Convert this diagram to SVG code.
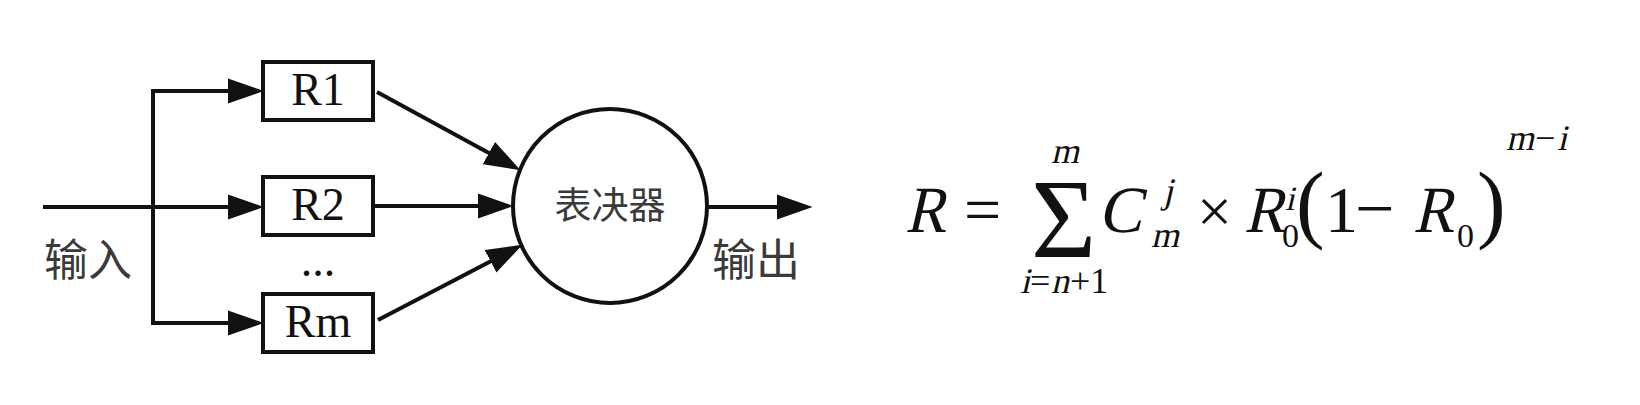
<svg xmlns="http://www.w3.org/2000/svg" width="1640" height="405" viewBox="0 0 1640 405">
<defs>
<style>
.ln{fill:none;stroke:#111;stroke-width:4}
.box{fill:#fff;stroke:#111;stroke-width:4}
.lbl{font-family:"Liberation Serif","Times New Roman",serif;font-size:46px;fill:#111;text-anchor:middle}
.cjk{font-family:"Noto Sans CJK SC","Noto Sans",sans-serif;font-size:44px;fill:#3a3a3a}
.f66{font-family:"Liberation Serif","Times New Roman",serif;font-size:66px;fill:#111}
.f36{font-family:"Liberation Serif","Times New Roman",serif;font-size:36px;fill:#111}
.f34{font-family:"Liberation Serif","Times New Roman",serif;font-size:34px;fill:#111}
.f86{font-family:"Liberation Serif","Times New Roman",serif;font-size:86px;fill:#111}
.f112{font-family:"Liberation Serif","Times New Roman",serif;font-size:112px;fill:#111}
</style>
<marker id="ah" markerUnits="userSpaceOnUse" markerWidth="36" markerHeight="26" refX="24" refY="12" orient="auto" viewBox="0 0 34 24">
<path d="M0,0 L34,12 L0,24 z" fill="#111"/>
</marker>
</defs>
<rect width="1640" height="405" fill="#fff"/>
<g id="connectors">
<path class="ln" d="M43,207 H253" marker-end="url(#ah)"/>
<path class="ln" d="M153,207 V91 H253" marker-end="url(#ah)"/>
<path class="ln" d="M153,207 V323 H253" marker-end="url(#ah)"/>
<path class="ln" d="M377,92 L511.2,165.2" marker-end="url(#ah)"/>
<path class="ln" d="M373,206 L503,206" marker-end="url(#ah)"/>
<path class="ln" d="M378,320 L513.1,249.6" marker-end="url(#ah)"/>
<path class="ln" d="M707,207 L802,207" marker-end="url(#ah)"/>
</g>
<g id="input-label"><text class="cjk" x="44" y="276">输入</text></g>
<g id="R1"><rect class="box" x="263" y="62" width="110" height="58"/><text class="lbl" x="318" y="105">R1</text></g>
<g id="R2"><rect class="box" x="263" y="177" width="110" height="58"/><text class="lbl" x="318" y="220">R2</text></g>
<g id="dots"><text class="lbl" x="318" y="276">...</text></g>
<g id="Rm"><rect class="box" x="263" y="294" width="110" height="58"/><text class="lbl" x="318" y="337">Rm</text></g>
<g id="voter"><circle class="box" cx="610" cy="206" r="97"/><text class="cjk" x="610" y="219" style="font-size:37px" text-anchor="middle">表决器</text></g>
<g id="output-label"><text class="cjk" x="712" y="276">输出</text></g>
<g id="formula">
<text class="f66" transform="translate(905,232) skewX(-13) scale(0.92,1)">R</text>
<text class="f66" x="964" y="232">=</text>
<text class="f112" x="1031" y="257">Σ</text>
<text class="f36" transform="translate(1065,163) skewX(-13)" text-anchor="middle">m</text>
<text class="f36" transform="translate(1020,293) skewX(-13)">i</text>
<text class="f36" x="1030" y="293">=</text>
<text class="f36" transform="translate(1051,293) skewX(-13)">n</text>
<text class="f36" x="1070" y="293">+1</text>
<text class="f66" transform="translate(1098,232) skewX(-13)">C</text>
<text class="f36" transform="translate(1163,203) skewX(-13)">j</text>
<text class="f36" transform="translate(1151,247) skewX(-13)">m</text>
<text class="f66" x="1197" y="232" style="font-size:62px">×</text>
<text class="f66" transform="translate(1244,232) skewX(-13) scale(0.92,1)">R</text>
<text class="f34" transform="translate(1285,210) skewX(-13)">i</text>
<text class="f34" x="1282" y="247">0</text>
<text class="f86" x="1296" y="232">(</text>
<text class="f66" x="1325" y="232">1</text>
<text class="f66" x="1355" y="232" style="font-size:70px">−</text>
<text class="f66" transform="translate(1413,232) skewX(-13) scale(0.92,1)">R</text>
<text class="f34" x="1457" y="247">0</text>
<text class="f86" x="1477" y="232">)</text>
<text class="f36" transform="translate(1506,150) skewX(-13)">m</text>
<text class="f36" x="1535" y="150">−</text>
<text class="f36" transform="translate(1557,150) skewX(-13)">i</text>
</g>
</svg>
